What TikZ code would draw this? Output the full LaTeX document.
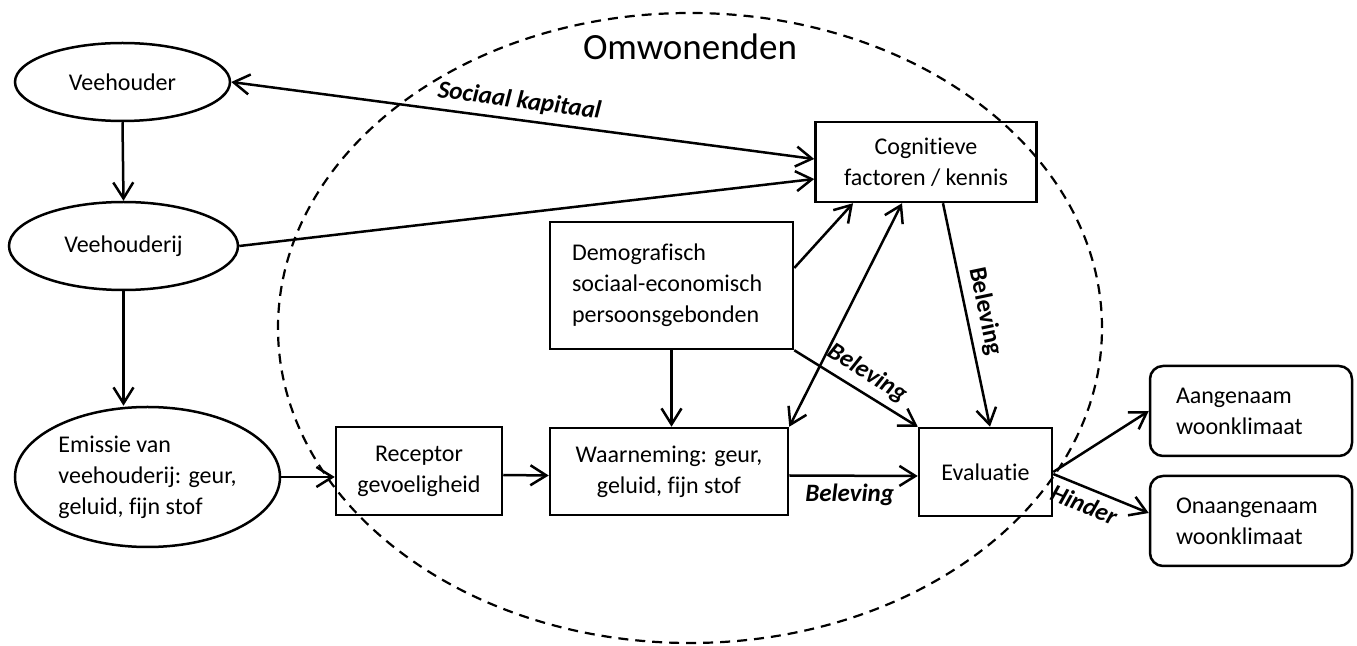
\documentclass[tikz,border=0pt]{standalone}
\usepackage{fontspec}
\setmainfont{Carlito}[Ligatures=NoCommon]
\usetikzlibrary{arrows.meta, shapes.geometric, calc}

\begin{document}
\begin{tikzpicture}[
      x=0.5pt, y=-0.5pt,
      every node/.style={font=\fontsize{12}{15.5}\selectfont},
      box/.style={draw, line width=1.25pt, align=center, inner sep=2pt},
      oval/.style={draw, ellipse, line width=1.25pt, align=center, inner sep=1pt},
      result/.style={draw, line width=1.25pt, rounded corners=6.5pt,
                  minimum height=45pt, text width=75pt, inner xsep=13pt, align=left},
      arr/.style={-{Straight Barb[length=8pt, width=10pt]}, line width=1.25pt},
      dblarr/.style={{Straight Barb[length=8pt, width=10pt]}-{Straight Barb[length=8pt, width=10pt]},
                  line width=1.25pt},
      note/.style={font=\fontsize{12.5}{15}\selectfont\bfseries\itshape},
      noteup/.style={font=\fontsize{12.5}{15}\selectfont\bfseries},
    ]
    \useasboundingbox (0,0) rectangle (1357,646);

    % Omwonenden
    \node[draw, dashed, dash pattern=on 5pt off 3.5pt, line width=1.1pt, ellipse,
          minimum width=412pt, minimum height=315pt, inner sep=0pt] (omw) at (690,328) {};
    \node[font=\fontsize{18.5}{22}\selectfont] (omwtitle) at (690,47) {Omwonenden};

    % Nodes
    \node[oval, minimum width=107.5pt, minimum height=39pt] (veehouder)   at (122.5,82)  {Veehouder};
    \node[oval, minimum width=114.5pt, minimum height=44pt] (veehouderij) at (123.5,246) {Veehouderij};
    \node[oval, align=left, minimum width=132.5pt, minimum height=70pt] (emissie) at (147.5,477)
      {Emissie van\\veehouderij: geur,\\geluid, fijn stof};
    \node[box, minimum width=83pt, minimum height=44pt]    (receptor) at (419,471)   {Receptor\\gevoeligheid};
    \node[box, minimum width=119pt, minimum height=43.5pt] (waarn)    at (669,471.5) {Waarneming: geur,\\geluid, fijn stof};
    \node[box, minimum width=66.5pt, minimum height=44pt]  (eval)     at (985.5,472) {Evaluatie};
    \node[box, minimum width=110.5pt, minimum height=40pt] (cogn)     at (926,162)   {Cognitieve\\factoren / kennis};
    \node[box, align=left, text width=99.5pt, inner xsep=11pt, minimum height=63.5pt] (demo) at (671.5,285.5)
      {Demografisch\\sociaal-economisch\\persoonsgebonden};
    \node[result] (aang)   at (1251,411) {Aangenaam\\woonklimaat};
    \node[result] (onaang) at (1251,521) {Onaangenaam\\woonklimaat};

    % Arrows
    \draw[dblarr] (veehouder.east) -- ([yshift=1.5pt]cogn.west)
      node[note, sloped, above, pos=0.49] {Sociaal kapitaal};
    \draw[arr] (veehouderij.east) -- ([yshift=-8.5pt]cogn.west);
    \draw[arr] (veehouder.south) -- (veehouderij.north);
    \draw[arr] (veehouderij.south) -- (veehouderij.south |- emissie.north);
    \draw[arr] (emissie.east) -- (emissie.east -| receptor.west);
    \draw[arr] ([yshift=-2pt]receptor.east) -- ([yshift=-2pt]waarn.west);
    \draw[arr] ([yshift=-2pt]waarn.east) -- ([yshift=-2pt]eval.west)
      node[note, below, pos=0.47] {Beleving};
    \draw[arr] (demo.south) -- (demo.south |- waarn.north);
    \draw[arr] ([yshift=8.75pt]demo.east) -- ([xshift=-36.5pt]cogn.south);
    \draw[dblarr] ([xshift=-12pt]cogn.south) -- (waarn.north east);
    \draw[arr] (demo.south east) -- (eval.north west)
      node[note, sloped, above, pos=0.51] {Beleving};
    \draw[arr] ([xshift=8.5pt]cogn.south) -- ([xshift=2.25pt]eval.north)
      node[noteup, sloped, above, pos=0.5] {Beleving};
    \draw[arr] (eval.east) -- (aang.west);
    \draw[arr] ([yshift=-1pt]eval.east) -- ([yshift=4pt]onaang.west)
      node[note, sloped, below, pos=0.39] {Hinder};
  \end{tikzpicture}
\end{document}
